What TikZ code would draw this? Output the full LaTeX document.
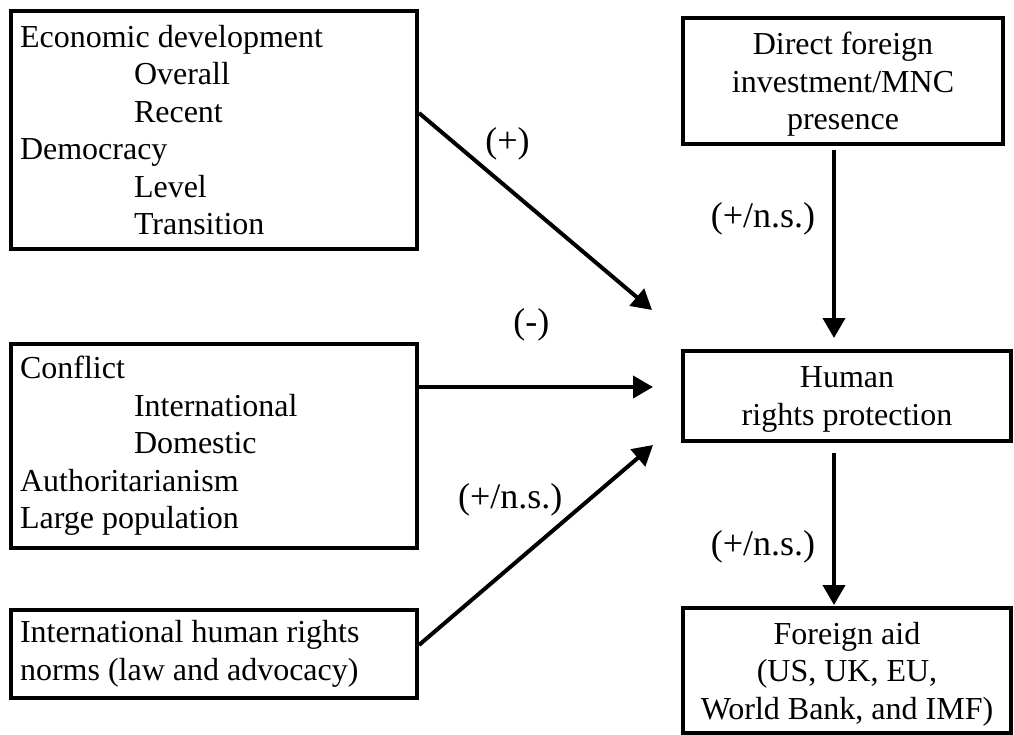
\documentclass[tikz,border=0pt]{standalone}
\usepackage{fontspec}
\setmainfont{Liberation Serif}
\usetikzlibrary{arrows.meta, positioning}
\newcommand{\subfactor}[1]{\hspace*{114pt}#1}

\begin{document}
\begin{tikzpicture}[
  >={Triangle[length=20pt, width=22pt]},
  font=\fontsize{32}{37.5}\selectfont,
  factorbox/.style={
    draw, line width=4pt, inner xsep=9pt, inner ysep=0pt,
    text width=388pt, align=flush left
  },
  outcomebox/.style={
    draw, line width=4pt, inner sep=0pt, text depth=-3pt,
    minimum width=328pt, align=center
  },
  myarrow/.style={->, line width=4pt},
  signlabel/.style={inner sep=0pt, font=\fontsize{36}{40}\selectfont},
]
\useasboundingbox (0,0) rectangle (1014pt,-735pt);
% --- LEFT COLUMN: country factors ---
\node[factorbox, minimum height=238pt, anchor=north west] (econ) at (9pt,-9pt)
  {Economic development\\\subfactor{Overall}\\\subfactor{Recent}\\Democracy\\\subfactor{Level}\\\subfactor{Transition}};
\node[factorbox, minimum height=204pt, below=91pt of econ] (conflict)
  {Conflict\\\subfactor{International}\\\subfactor{Domestic}\\Authoritarianism\\Large population};
\node[factorbox, minimum height=88pt, below=58pt of conflict] (norms)
  {International human rights\\norms (law and advocacy)};
% --- RIGHT COLUMN: investment, rights, aid ---
\node[outcomebox, minimum width=320pt, minimum height=126pt,
  right=262pt of econ.north east, anchor=north west, yshift=-7pt] (dfi)
  {Direct foreign\\investment/MNC\\presence};
\node[outcomebox, minimum height=90pt, below=203pt of dfi.south west, anchor=north west] (hr)
  {Human\\rights protection};
\node[outcomebox, minimum height=125pt, below=163pt of hr.south west, anchor=north west] (aid)
  {Foreign aid\\(US, UK, EU,\\World Bank, and IMF)};
% --- CONNECTORS ---
\coordinate (inEcon) at ([shift={(-29pt,86pt)}]hr.west);
\coordinate (inConflict) at ([shift={(-28pt,9pt)}]hr.west);
\coordinate (inNorms) at ([shift={(-28pt,-49pt)}]hr.west);
\coordinate (spine) at ([xshift=-13pt]hr.center);
\draw[myarrow] ([yshift=17pt]econ.east) -- node[signlabel, pos=0.38, yshift=44pt] {(+)} (inEcon);
\draw[myarrow] (conflict.east |- inConflict) -- node[signlabel, pos=0.48, yshift=62pt] {(-)} (inConflict);
\draw[myarrow] ([yshift=9pt]norms.east) -- node[signlabel, pos=0.39, yshift=67pt] {(+/n.s.)} (inNorms);
\draw[myarrow, shorten <=4pt, shorten >=11pt] (dfi.south -| spine) --
  node[signlabel, pos=0.36, xshift=-71pt] {(+/n.s.)} (hr.north -| spine);
\draw[myarrow, shorten <=10pt, shorten >=1pt] (hr.south -| spine) --
  node[signlabel, pos=0.64, xshift=-71pt] {(+/n.s.)} (aid.north -| spine);
\end{tikzpicture}
\end{document}
